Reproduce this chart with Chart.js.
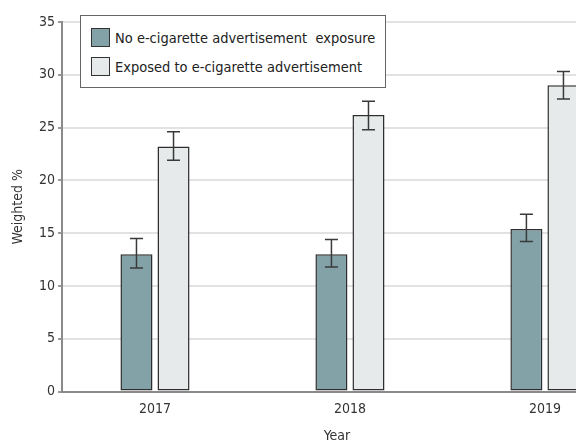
<!DOCTYPE html>
<html>
<head>
<meta charset="utf-8">
<script src="https://cdn.jsdelivr.net/npm/chart.js@4.4.1/dist/chart.umd.min.js"></script>
<style>
  body { margin: 0; background: #fff; overflow: hidden; }
  #wrap { position: relative; width: 576px; height: 443px; overflow: hidden; }
  #plot { position: absolute; left: 0; top: 0; width: 630px; height: 443px; }
  #legend {
    position: absolute; left: 80px; top: 15px; width: 304px; height: 71px;
    border: 1.5px solid #666; background: #fff;
    font-family: "Liberation Sans Narrow", "DejaVu Sans Condensed", sans-serif;
    font-size: 14.5px; color: #222;
  }
  .item { position: absolute; left: 10px; height: 20px; line-height: 20px; white-space: pre; }
  .swatch { display: inline-block; width: 17px; height: 17px; border: 1.5px solid #333; vertical-align: top; margin-right: 5px; }
</style>
</head>
<body>
<div id="wrap">
  <div id="plot"><canvas id="chart"></canvas></div>
  <div id="legend"></div>
</div>
<script>
const years = [2017, 2018, 2019];
const seriesLabels = ['No e-cigarette advertisement  exposure', 'Exposed to e-cigarette advertisement'];

const noExposure = [13.0, 13.0, 15.4];
const noExposureLow = [11.7, 11.8, 14.2];
const noExposureHigh = [14.5, 14.4, 16.8];

const exposed = [23.2, 26.2, 29.0];
const exposedLow = [21.9, 24.8, 27.7];
const exposedHigh = [24.6, 27.5, 30.3];

const fills = ['#82a2a8', '#e6eaea'];
const fontFamily = '"Liberation Sans Narrow", "DejaVu Sans Condensed", sans-serif';

function points(values) {
  return years.map((yr, i) => ({ x: yr, y: values[i] }));
}

// whiskers for the confidence intervals, drawn on top of each bar
const errorBars = {
  id: 'errorBars',
  afterDatasetsDraw(chart) {
    const ctx = chart.ctx;
    const yScale = chart.scales.y;
    ctx.save();
    ctx.strokeStyle = '#3a3a3a';
    ctx.lineWidth = 1.5;
    chart.data.datasets.forEach((ds, di) => {
      const meta = chart.getDatasetMeta(di);
      meta.data.forEach((bar, i) => {
        const top = yScale.getPixelForValue(ds.high[i]);
        const bottom = yScale.getPixelForValue(ds.low[i]);
        const half = 6.5;
        ctx.beginPath();
        ctx.moveTo(bar.x, top);
        ctx.lineTo(bar.x, bottom);
        ctx.moveTo(bar.x - half, top);
        ctx.lineTo(bar.x + half, top);
        ctx.moveTo(bar.x - half, bottom);
        ctx.lineTo(bar.x + half, bottom);
        ctx.stroke();
      });
    });
    ctx.restore();
  }
};

const chart = new Chart(document.getElementById('chart'), {
  type: 'bar',
  data: {
    datasets: [
      {
        label: seriesLabels[0],
        data: points(noExposure),
        low: noExposureLow,
        high: noExposureHigh,
        backgroundColor: fills[0],
        borderColor: '#2e2e2e',
        borderWidth: 1.5,
        borderSkipped: false
      },
      {
        label: seriesLabels[1],
        data: points(exposed),
        low: exposedLow,
        high: exposedHigh,
        backgroundColor: fills[1],
        borderColor: '#2e2e2e',
        borderWidth: 1.5,
        borderSkipped: false
      }
    ]
  },
  options: {
    responsive: true,
    maintainAspectRatio: false,
    animation: false,
    categoryPercentage: 0.38,
    barPercentage: 0.865,
    layout: { padding: { top: 22, right: 18, bottom: 0, left: 0 } },
    plugins: {
      legend: { display: false },
      tooltip: { enabled: false }
    },
    scales: {
      x: {
        type: 'linear',
        offset: false,
        min: 2016.523,
        max: 2019.344,
        grid: { display: false },
        border: { color: '#8a8a8a', width: 2 },
        ticks: {
          stepSize: 1,
          includeBounds: false,
          padding: 1,
          color: '#333',
          font: { family: fontFamily, size: 14 },
          callback: (v) => String(v)
        },
        title: {
          display: true,
          text: 'Year',
          color: '#333',
          font: { family: fontFamily, size: 14, lineHeight: 1 },
          padding: { top: 8, bottom: 0 }
        },
        afterFit: (scale) => { scale.height = 51.5; }
      },
      y: {
        min: 0,
        max: 35,
        grid: { color: '#e2e2e2', lineWidth: 2, tickLength: 4, tickColor: '#777', tickWidth: 1.5 },
        border: { color: '#8a8a8a', width: 2 },
        ticks: {
          stepSize: 5,
          padding: 3,
          color: '#333',
          font: { family: fontFamily, size: 14 }
        },
        title: {
          display: true,
          text: 'Weighted %',
          color: '#333',
          font: { family: fontFamily, size: 14, lineHeight: 1 },
          padding: { top: 11, bottom: 0 }
        },
        afterFit: (scale) => { scale.width = 62; }
      }
    }
  },
  plugins: [errorBars]
});

// legend box built from the dataset labels and fills
const legend = document.getElementById('legend');
seriesLabels.forEach((label, i) => {
  const item = document.createElement('div');
  item.className = 'item';
  item.style.top = (12 + i * 29) + 'px';
  const sw = document.createElement('span');
  sw.className = 'swatch';
  sw.style.background = fills[i];
  item.appendChild(sw);
  item.appendChild(document.createTextNode(label));
  legend.appendChild(item);
});
</script>
</body>
</html>
